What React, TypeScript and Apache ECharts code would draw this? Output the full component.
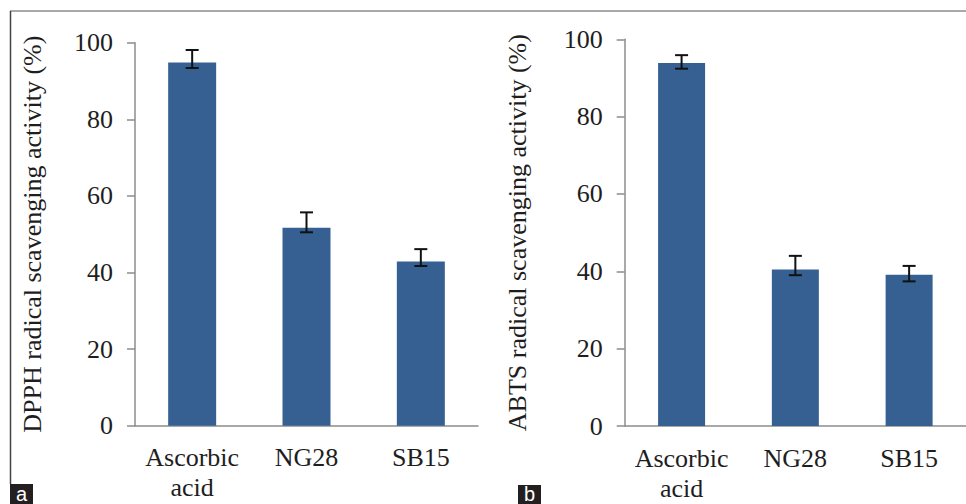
import React, { useEffect, useRef } from "react";
import * as echarts from "echarts";

const categories = ["Ascorbic\nacid", "NG28", "SB15"];
const dpphValues = [94.8, 51.7, 42.9];
const dpphErrHigh = [98.1, 55.7, 46.1];
const dpphErrLow = [93.4, 50.5, 41.7];
const abtsValues = [93.9, 40.5, 39.1];
const abtsErrHigh = [95.9, 44.0, 41.4];
const abtsErrLow = [92.4, 39.0, 37.4];
const yTicks = { min: 0, max: 100, interval: 20 };

const FONT = "'Liberation Serif', 'Times New Roman', serif";
const TXT = "#1e1e1e";
const AXIS = "#8c8c8c";
const BAR = "#376092";

function errSeries(idx: number, low: number[], high: number[]) {
  return {
    type: "custom",
    xAxisIndex: idx,
    yAxisIndex: idx,
    z: 10,
    silent: true,
    data: categories.map((_, i) => [i, low[i], high[i]]),
    renderItem: (params: any, api: any) => {
      const x = api.value(0);
      const lo = api.coord([x, api.value(1)]);
      const hi = api.coord([x, api.value(2)]);
      const cap = 6.5;
      const style = { stroke: "#111111", lineWidth: 2 };
      return {
        type: "group",
        children: [
          { type: "line", shape: { x1: hi[0], y1: hi[1], x2: lo[0], y2: lo[1] }, style },
          { type: "line", shape: { x1: hi[0] - cap, y1: hi[1], x2: hi[0] + cap, y2: hi[1] }, style },
          { type: "line", shape: { x1: lo[0] - cap, y1: lo[1], x2: lo[0] + cap, y2: lo[1] }, style },
        ],
      };
    },
  };
}

function xAxis(idx: number) {
  return {
    type: "category",
    gridIndex: idx,
    data: categories,
    axisLine: { show: true, lineStyle: { color: AXIS, width: 1.5 } },
    axisTick: { show: false },
    axisLabel: {
      color: TXT,
      fontFamily: FONT,
      fontSize: 26,
      lineHeight: 30,
      margin: 17,
      interval: 0,
      hideOverlap: false,
    },
    splitLine: { show: false },
  };
}

function yAxis(idx: number, name: string, gap: number) {
  return {
    type: "value",
    gridIndex: idx,
    min: yTicks.min,
    max: yTicks.max,
    interval: yTicks.interval,
    name,
    nameLocation: "middle",
    nameGap: gap,
    nameRotate: 90,
    nameTextStyle: { color: TXT, fontFamily: FONT, fontSize: 26 },
    axisLine: { show: true, lineStyle: { color: AXIS, width: 1.5 } },
    axisTick: { show: true, length: 8, lineStyle: { color: AXIS, width: 1.5 } },
    axisLabel: { color: TXT, fontFamily: FONT, fontSize: 26, margin: 22 },
    splitLine: { show: false },
  };
}

export default function App() {
  const ref = useRef<HTMLDivElement>(null);
  useEffect(() => {
    if (!ref.current) return;
    const chart = echarts.init(ref.current, undefined, { renderer: "svg" });
    chart.setOption({
      animation: false,
      backgroundColor: "#ffffff",
      grid: [
        { left: 135, right: 488, top: 42.7, bottom: 78.3 },
        { left: 624.7, right: 0, top: 39.3, bottom: 78 },
      ],
      xAxis: [xAxis(0), xAxis(1)],
      yAxis: [
        yAxis(0, "DPPH radical scavenging activity (%)", 90),
        yAxis(1, "ABTS radical scavenging activity (%)", 94),
      ],
      series: [
        { type: "bar", xAxisIndex: 0, yAxisIndex: 0, data: dpphValues, barWidth: 48, itemStyle: { color: BAR } },
        errSeries(0, dpphErrLow, dpphErrHigh),
        { type: "bar", xAxisIndex: 1, yAxisIndex: 1, data: abtsValues, barWidth: 47, itemStyle: { color: BAR } },
        errSeries(1, abtsErrLow, abtsErrHigh),
      ],
      graphic: [
        { type: "line", shape: { x1: 10, y1: 11, x2: 966, y2: 11 }, style: { stroke: AXIS, lineWidth: 1.5 } },
        { type: "line", shape: { x1: 10.5, y1: 11, x2: 10.5, y2: 484 }, style: { stroke: "#444444", lineWidth: 1.5 } },
        { type: "rect", shape: { x: 10, y: 484, width: 23, height: 20 }, style: { fill: "#231f20" } },
        { type: "text", x: 21.5, y: 494, style: { text: "a", fill: "#ffffff", font: "20px 'Liberation Sans', Arial, sans-serif", align: "center", verticalAlign: "middle" } },
        { type: "rect", shape: { x: 518, y: 485, width: 23, height: 19 }, style: { fill: "#231f20" } },
        { type: "text", x: 529.5, y: 494, style: { text: "b", fill: "#ffffff", font: "20px 'Liberation Sans', Arial, sans-serif", align: "center", verticalAlign: "middle" } },
      ],
    });
    return () => chart.dispose();
  }, []);
  return (
    <div
      ref={ref}
      style={{ position: "fixed", left: 0, top: 0, width: 966, height: 504 }}
    />
  );
}
